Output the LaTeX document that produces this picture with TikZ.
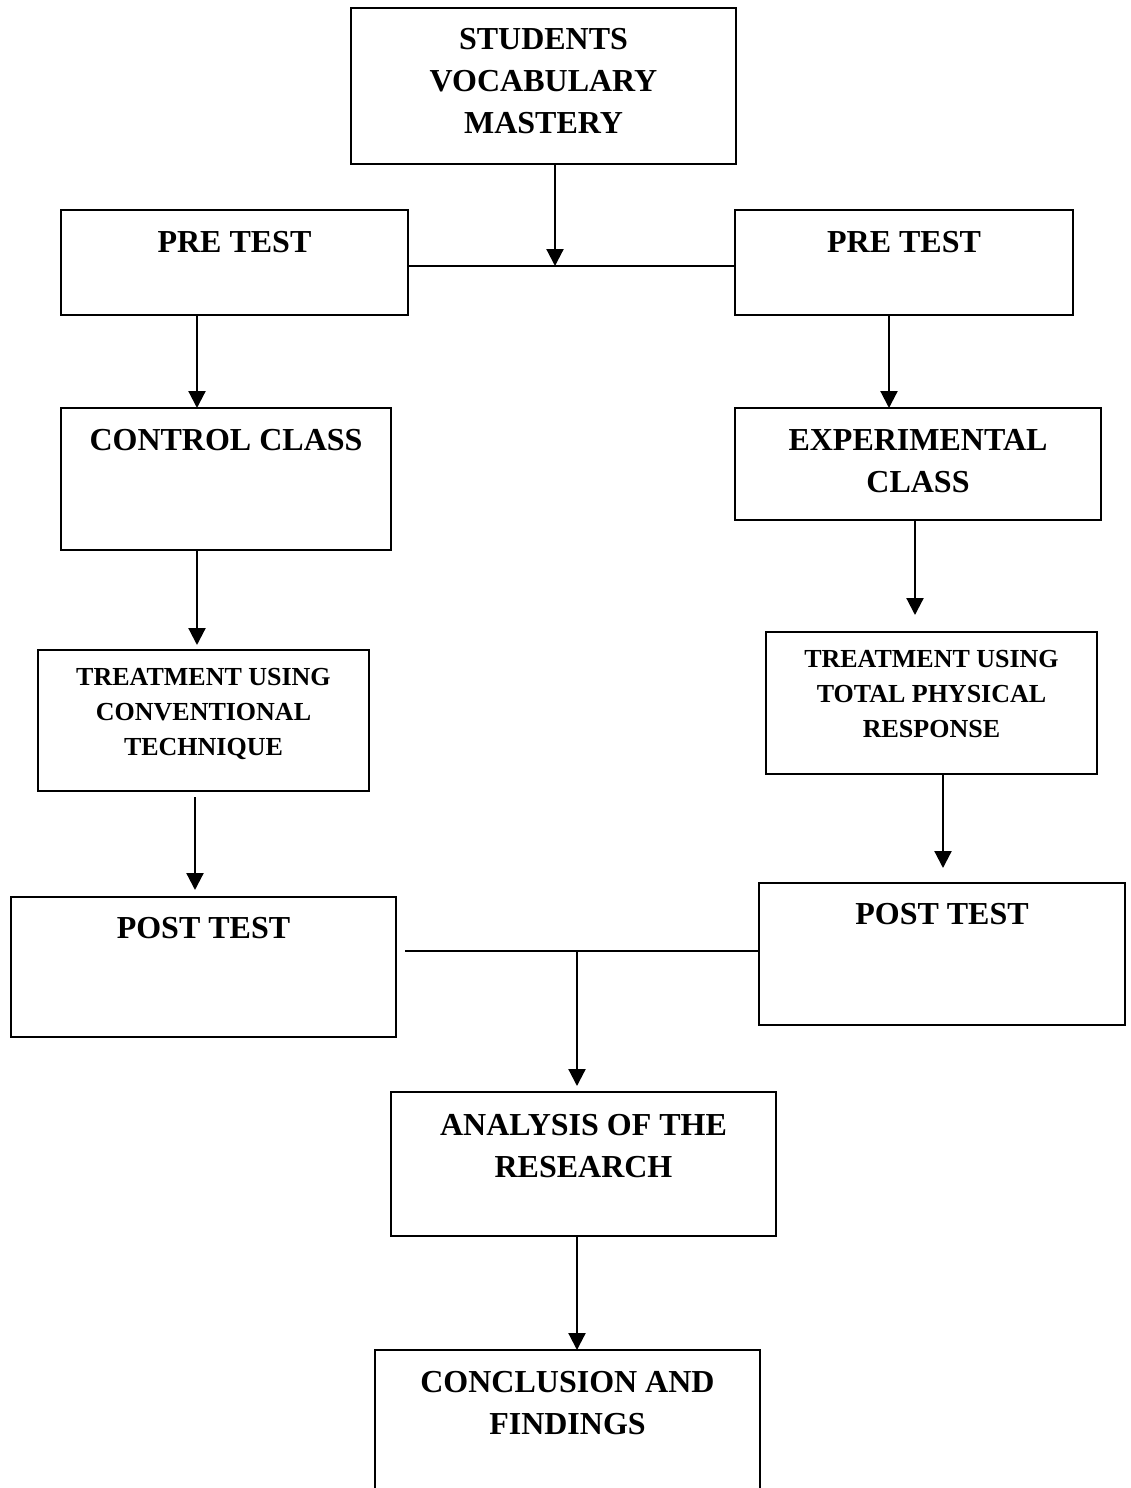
\documentclass[tikz,border=0pt]{standalone}
\usepackage{fontspec}
\setmainfont{Liberation Serif}
\usetikzlibrary{arrows.meta,calc}
\newcommand{\contenu}[4]{\parbox[c][#2][t]{#1}{\centering\vspace*{#3}#4}}

\begin{document}
\begin{tikzpicture}[x=0.5pt,y=-0.5pt,
  boite/.style={draw,line width=1pt,inner sep=0pt,outer sep=0pt,
                font=\fontsize{16}{21}\selectfont\bfseries},
  petit/.style={font=\fontsize{13}{17.5}\selectfont\bfseries},
  fleche/.style={-{Triangle[length=8.5pt,width=8.5pt]},line width=1.1pt},
  trait/.style={line width=0.8pt}]

  \useasboundingbox (0,0) rectangle (1130,1488);
  \clip (0,0) rectangle (1130,1488);

  \node[boite] (etud) at (543.5,86) {\contenu{192.5pt}{78pt}{10pt}{STUDENTS\\VOCABULARY\\MASTERY}};

  \node[boite] (pre1) at (234.5,262.5) {\contenu{173.5pt}{52.5pt}{10.5pt}{PRE TEST}};
  \node[boite] (pre2) at (904,262.5) {\contenu{169pt}{52.5pt}{10.5pt}{PRE TEST}};

  \node[boite] (ctrl) at (226,479) {\contenu{165pt}{71pt}{10.5pt}{CONTROL CLASS}};
  \node[boite] (expe) at (918,464) {\contenu{183pt}{56pt}{10.5pt}{EXPERIMENTAL\\CLASS}};

  \node[boite,petit] (trait1) at (203.5,720.5) {\contenu{165.5pt}{70.5pt}{9pt}{TREATMENT USING\\CONVENTIONAL\\TECHNIQUE}};
  \node[boite,petit] (trait2) at (931.5,703) {\contenu{165.5pt}{71pt}{9pt}{TREATMENT USING\\TOTAL PHYSICAL\\RESPONSE}};

  \node[boite] (post1) at (203.5,967) {\contenu{192.5pt}{70pt}{10pt}{POST TEST}};
  \node[boite] (post2) at (942,954) {\contenu{183pt}{71pt}{10pt}{POST TEST}};

  \node[boite] (anal) at (583.5,1164) {\contenu{192.5pt}{72pt}{11pt}{ANALYSIS OF THE\\RESEARCH}};
  \node[boite] (concl) at (567.5,1440) {\contenu{192.5pt}{90pt}{10.5pt}{CONCLUSION AND\\FINDINGS}};

  % jonctions
  \coordinate (j1) at (555,266);
  \coordinate (j2) at (577,951);

  \draw[trait] (pre1.east |- j1) -- (pre2.west |- j1);
  \draw[fleche] (etud.south -| j1) -- (j1);

  \draw[fleche] ([xshift=-18.75pt]pre1.south) -- ([xshift=-14.5pt]ctrl.north);
  \draw[fleche] ([xshift=-7.5pt]pre2.south) -- ([xshift=-14.5pt]expe.north);

  \draw[fleche,shorten >=2.5pt] ([xshift=-14.5pt]ctrl.south) -- ([xshift=-3.25pt]trait1.north);
  \draw[fleche,shorten >=8.5pt] ([xshift=-1.5pt]expe.south) -- ([xshift=-8.25pt]trait2.north);

  \draw[fleche,shorten <=3pt,shorten >=3.5pt] ([xshift=-4.25pt]trait1.south) -- ([xshift=-4.25pt]post1.north);
  \draw[fleche,shorten >=7.5pt] ([xshift=5.75pt]trait2.south) -- ([xshift=0.5pt]post2.north);

  \draw[trait] ($(post1.east |- j2)+(9,0)$) -- (post2.west |- j2);
  \draw[fleche,shorten >=3pt] (j2) -- (anal.north -| j2);

  \draw[fleche] ([xshift=-3.25pt]anal.south) -- ([xshift=4.75pt]concl.north);
\end{tikzpicture}
\end{document}
